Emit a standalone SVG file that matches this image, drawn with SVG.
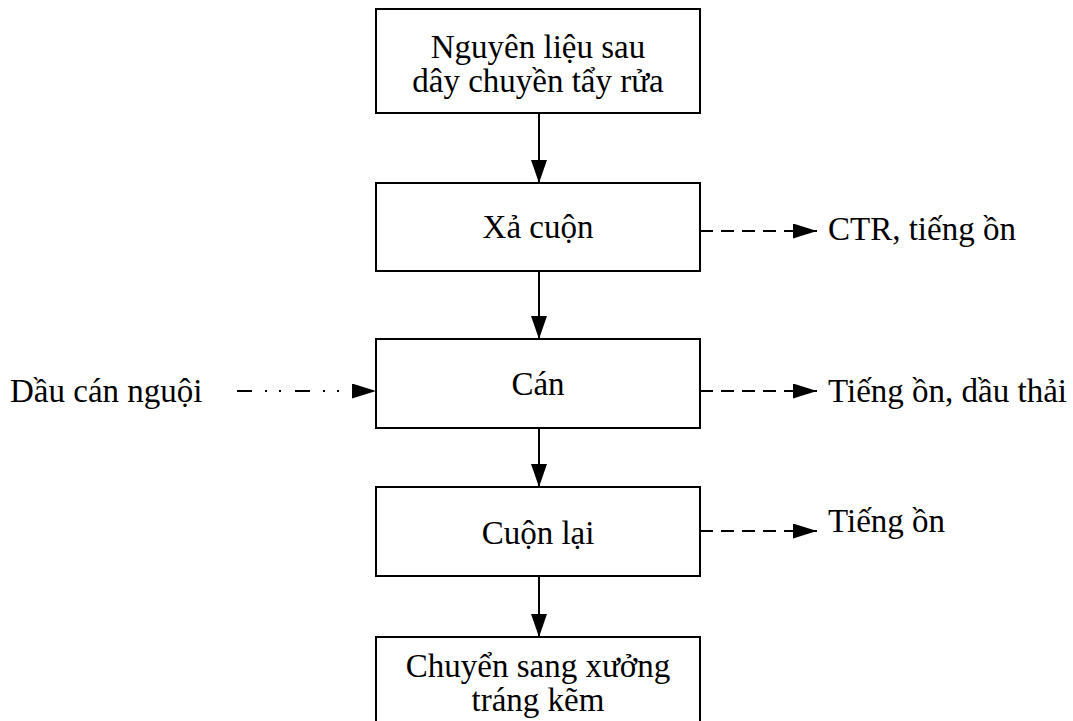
<svg xmlns="http://www.w3.org/2000/svg" width="1073" height="721" viewBox="0 0 1073 721">
  <style>
    .box { fill: #ffffff; stroke: #000000; stroke-width: 2; }
    .lbl { font-family: "Liberation Serif", "Times New Roman", serif; font-size: 33px; fill: #000000; }
    .mid { text-anchor: middle; }
    .flow { stroke: #000000; stroke-width: 2; fill: none; }
    .dash { stroke-dasharray: 13 8; }
    .dashdot { stroke-dasharray: 15 13 2 12 2 14; }
  </style>
  <defs>
    <marker id="tri-v" viewBox="0 0 23 16" refX="23" refY="8" markerWidth="23" markerHeight="16" markerUnits="userSpaceOnUse" orient="auto">
      <path d="M0,0 L23,8 L0,16 Z" fill="#000000"/>
    </marker>
    <marker id="tri-h" viewBox="0 0 24 15" refX="24" refY="7.5" markerWidth="24" markerHeight="15" markerUnits="userSpaceOnUse" orient="auto">
      <path d="M0,0 L24,7.5 L0,15 Z" fill="#000000"/>
    </marker>
  </defs>

  <rect width="1073" height="721" fill="#ffffff"/>

  <!-- process steps -->
  <g id="step-input">
    <rect class="box" x="376" y="9" width="324" height="104"/>
    <text class="lbl mid" x="538" y="58">Nguyên liệu sau</text>
    <text class="lbl mid" x="538" y="92">dây chuyền tẩy rửa</text>
  </g>
  <g id="step-uncoil">
    <rect class="box" x="376" y="183" width="324" height="88"/>
    <text class="lbl mid" x="538" y="238">Xả cuộn</text>
  </g>
  <g id="step-roll">
    <rect class="box" x="376" y="339" width="324" height="89"/>
    <text class="lbl mid" x="538" y="395">Cán</text>
  </g>
  <g id="step-recoil">
    <rect class="box" x="376" y="487" width="324" height="89"/>
    <text class="lbl mid" x="538" y="544">Cuộn lại</text>
  </g>
  <g id="step-transfer">
    <rect class="box" x="376" y="637" width="324" height="100"/>
    <text class="lbl mid" x="538" y="677">Chuyển sang xưởng</text>
    <text class="lbl mid" x="538" y="711">tráng kẽm</text>
  </g>

  <!-- side inputs and outputs -->
  <g id="in-oil">
    <text class="lbl" x="10" y="402">Dầu cán nguội</text>
  </g>
  <g id="out-uncoil">
    <text class="lbl" x="828" y="240">CTR, tiếng ồn</text>
  </g>
  <g id="out-roll">
    <text class="lbl" x="828" y="402">Tiếng ồn, dầu thải</text>
  </g>
  <g id="out-recoil">
    <text class="lbl" x="828" y="532">Tiếng ồn</text>
  </g>

  <!-- connectors -->
  <g id="connectors">
    <line class="flow" x1="539" y1="113" x2="539" y2="183" marker-end="url(#tri-v)"/>
    <line class="flow" x1="539" y1="271" x2="539" y2="339" marker-end="url(#tri-v)"/>
    <line class="flow" x1="539" y1="428" x2="539" y2="487" marker-end="url(#tri-v)"/>
    <line class="flow" x1="539" y1="576" x2="539" y2="637" marker-end="url(#tri-v)"/>
    <line class="flow dash" x1="700" y1="231" x2="817" y2="231" marker-end="url(#tri-h)"/>
    <line class="flow dash" x1="700" y1="391" x2="817" y2="391" marker-end="url(#tri-h)"/>
    <line class="flow dash" x1="700" y1="531" x2="817" y2="531" marker-end="url(#tri-h)"/>
    <line class="flow dashdot" x1="237" y1="391" x2="376" y2="391" marker-end="url(#tri-h)"/>
  </g>
</svg>
